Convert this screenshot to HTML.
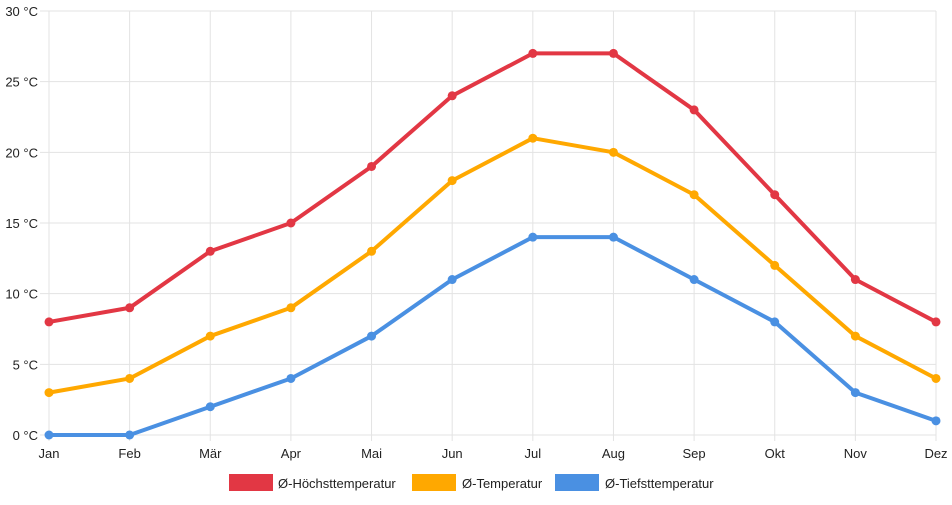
<!DOCTYPE html>
<html><head><meta charset="utf-8"><style>
body{margin:0;background:#fff;}
svg text{font-family:"Liberation Sans",sans-serif;font-size:13px;fill:#222;}
</style></head><body>
<svg id="chart" width="952" height="500" xmlns="http://www.w3.org/2000/svg">
<g id="grid"></g>
<g id="series"></g>
<g id="legend">
<rect x="229" y="474" width="44" height="17" fill="#e23744"/>
<text x="278" y="488">Ø-Höchsttemperatur</text>
<rect x="412" y="474" width="44" height="17" fill="#ffa800"/>
<text x="462" y="488">Ø-Temperatur</text>
<rect x="555" y="474" width="44" height="17" fill="#4a90e2"/>
<text x="605" y="488">Ø-Tiefsttemperatur</text>
</g>
</svg>
<script>
const months=["Jan","Feb","Mär","Apr","Mai","Jun","Jul","Aug","Sep","Okt","Nov","Dez"];
const highTemps=[8,9,13,15,19,24,27,27,23,17,11,8];
const meanTemps=[3,4,7,9,13,18,21,20,17,12,7,4];
const lowTemps=[0,0,2,4,7,11,14,14,11,8,3,1];
const yTicks=[0,5,10,15,20,25,30];
const NS="http://www.w3.org/2000/svg";
const x0=49,x1=936,y0=435,y1=11;
const xs=i=>x0+(x1-x0)*i/(months.length-1);
const ys=v=>y0-(y0-y1)*v/30;
function mk(t,a,p){const e=document.createElementNS(NS,t);for(const k in a)e.setAttribute(k,a[k]);p.appendChild(e);return e;}
const grid=document.getElementById('grid');
yTicks.forEach(v=>{
 const l=mk('line',{x1:40,x2:x1,y1:ys(v),y2:ys(v),stroke:'#e3e3e3','stroke-width':1},grid);
 
 
 const t=mk('text',{x:38,y:ys(v)+5,'text-anchor':'end'},grid);
 t.textContent=v+' °C';
 
 
});
months.forEach((m,i)=>{
 const l=mk('line',{x1:xs(i),x2:xs(i),y1:y1,y2:y0+6,stroke:'#e3e3e3','stroke-width':1},grid);
 
 
 const t=mk('text',{x:xs(i),y:y0+23,'text-anchor':'middle'},grid);
 t.textContent=m;
 
 
});
const ser=document.getElementById('series');
[[lowTemps,'#4a90e2','low'],[meanTemps,'#ffa800','mean'],[highTemps,'#e23744','high']].forEach(([d,c,n])=>{
 const p=mk('polyline',{points:d.map((v,i)=>xs(i)+','+ys(v)).join(' '),fill:'none',stroke:c,'stroke-width':4,'stroke-linejoin':'round'},ser);
 
 
 d.forEach((v,i)=>{
  const pt=mk('circle',{cx:xs(i),cy:ys(v),r:4.5,fill:c},ser);
  
  
 });
});
</script>
</body></html>
